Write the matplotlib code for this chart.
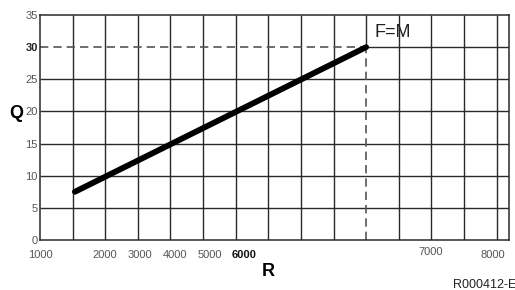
import matplotlib
matplotlib.use("Agg")
import matplotlib.pyplot as plt
import matplotlib.transforms as mtransforms

plt.rcParams['font.family'] = ['Liberation Sans', 'DejaVu Sans']

# grid columns are evenly spaced; R labels sit on some of them
n_cols = 14
x_max = 14.38
r_tick_pos = [0, 2, 3, 4, 5, 6, 12, 14]
r_tick_labels = ['1000', '2000', '3000', '4000', '5000', '6000', '7000', '8000']
q_ticks = [0, 5, 10, 15, 20, 25, 30, 35]

# operating line (in grid-column units) and F=M point
line_r = [1.07, 10.0]
line_q = [7.5, 30.0]
fm_r = 10.0
fm_q = 30.0

fig = plt.figure(figsize=(5.15, 2.9), dpi=100)
ax = fig.add_axes([40/515, 50/290, 469/515, 225/290])
ax.set_xlim(0, x_max)
ax.set_ylim(0, 35)

grid_kw = dict(color='#2a2a2a', lw=1.0, zorder=1)
for i in range(1, n_cols + 1):
    if i == fm_r:
        ax.vlines(i, fm_q, 35, **grid_kw)
    else:
        ax.vlines(i, 0, 35, **grid_kw)
for q in q_ticks[1:-1]:
    if q == fm_q:
        ax.hlines(q, fm_r, x_max, **grid_kw)
    else:
        ax.hlines(q, 0, x_max, **grid_kw)

# dashed guides to F=M
dash_kw = dict(color='#555555', lw=1.2, linestyle=(0, (5, 3)), zorder=2)
ax.plot([0, fm_r], [fm_q, fm_q], **dash_kw)
ax.plot([fm_r, fm_r], [0, fm_q], **dash_kw)

ax.plot(line_r, line_q, color='black', lw=4.2, solid_capstyle='round', zorder=3)

ax.text(fm_r + 0.25, fm_q + 1.6, 'F=M', fontsize=13, color='#222222', zorder=4)

for s in ax.spines.values():
    s.set_color('#2a2a2a')
    s.set_linewidth(1.1)

ax.set_yticks(q_ticks)
ax.set_yticklabels([str(q) for q in q_ticks])
ax.tick_params(axis='y', length=0, pad=1.5, labelsize=8, labelcolor='#555555')
for lab in ax.get_yticklabels():
    if lab.get_text() == '30':
        lab.set_fontweight('bold')
        lab.set_color('#222222')

ax.set_xticks(r_tick_pos)
ax.set_xticklabels(r_tick_labels)
ax.tick_params(axis='x', length=0, pad=7, labelsize=8, labelcolor='#555555')
# small shifts of the printed labels (px)
shifts = [(0, 0), (0, 0), (2, 0), (5, 0), (7, 0), (8, 0), (-1, 3), (-4, 0)]
for lab, (dx, dy) in zip(ax.get_xticklabels(), shifts):
    lab.set_transform(lab.get_transform() +
                      mtransforms.ScaledTranslation(dx/100, dy/100, fig.dpi_scale_trans))
    if lab.get_text() == '6000':
        lab.set_fontweight('bold')
        lab.set_color('#111111')

fig.text(16/515, 1 - 113/290, 'Q', fontsize=13, fontweight='bold', ha='center', va='center')
fig.text(268/515, 1 - 272/290, 'R', fontsize=13, fontweight='bold', ha='center', va='center')
fig.text(453/515, 1 - 285/290, 'R000412-E', fontsize=9, color='#222222', ha='left', va='center')

fig.savefig('out.png', dpi=100)
